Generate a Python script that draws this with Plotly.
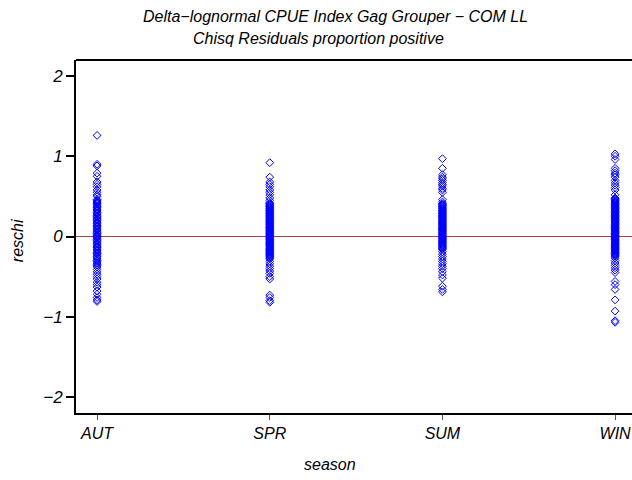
import plotly.graph_objects as go

seasons = ["AUT", "SPR", "SUM", "WIN"]

aut_reschi = [1.26, 0.90, 0.88, 0.79, 0.75, 0.68, 0.65, 0.62, 0.58, 0.55, 0.52, 0.50,
              0.46, 0.45, 0.44, 0.43, 0.42, 0.41, 0.40, 0.38, 0.37, 0.36, 0.34, 0.33,
              0.32, 0.30, 0.29, 0.28, 0.26, 0.25, 0.24, 0.22, 0.21, 0.20, 0.18, 0.17,
              0.16, 0.14, 0.13, 0.12, 0.10, 0.09, 0.08, 0.06, 0.05, 0.04, 0.02, 0.01,
              0.00, -0.01, -0.02, -0.04, -0.05, -0.06, -0.08, -0.09, -0.10, -0.12,
              -0.13, -0.14, -0.16, -0.17, -0.18, -0.20, -0.21, -0.22, -0.24, -0.25,
              -0.26, -0.28, -0.30, -0.31, -0.33, -0.35, -0.36, -0.38, -0.41, -0.44,
              -0.47, -0.50, -0.53, -0.57, -0.60, -0.63, -0.68, -0.72, -0.76, -0.79, -0.81]

spr_reschi = [0.92, 0.74, 0.68, 0.65, 0.62, 0.58, 0.55, 0.52, 0.48, 0.45, 0.42, 0.41,
              0.40, 0.39, 0.38, 0.37, 0.36, 0.35, 0.34, 0.33, 0.32, 0.31, 0.30, 0.29,
              0.28, 0.27, 0.26, 0.25, 0.24, 0.23, 0.22, 0.21, 0.20, 0.19, 0.18, 0.17,
              0.16, 0.15, 0.14, 0.13, 0.12, 0.11, 0.10, 0.09, 0.08, 0.07, 0.06, 0.05,
              0.04, 0.03, 0.02, 0.01, 0.00, -0.01, -0.02, -0.03, -0.04, -0.05, -0.06,
              -0.07, -0.08, -0.09, -0.10, -0.11, -0.12, -0.13, -0.14, -0.15, -0.16,
              -0.17, -0.18, -0.19, -0.20, -0.21, -0.22, -0.23, -0.24, -0.25, -0.26,
              -0.27, -0.28, -0.31, -0.34, -0.37, -0.40, -0.43, -0.46, -0.50, -0.53,
              -0.73, -0.76, -0.80, -0.82]

sum_reschi = [0.97, 0.85, 0.77, 0.74, 0.72, 0.70, 0.67, 0.65, 0.63, 0.60, 0.58, 0.55,
              0.46, 0.43, 0.41, 0.40, 0.39, 0.38, 0.37, 0.36, 0.35, 0.34, 0.33, 0.32,
              0.31, 0.30, 0.29, 0.28, 0.27, 0.26, 0.25, 0.24, 0.23, 0.22, 0.21, 0.20,
              0.19, 0.18, 0.17, 0.16, 0.15, 0.14, 0.13, 0.12, 0.11, 0.10, 0.09, 0.08,
              0.07, 0.06, 0.05, 0.04, 0.03, 0.02, 0.01, 0.00, -0.01, -0.02, -0.03,
              -0.04, -0.05, -0.06, -0.07, -0.08, -0.09, -0.10, -0.11, -0.12, -0.13,
              -0.14, -0.15, -0.16, -0.19, -0.22, -0.25, -0.28, -0.31, -0.34, -0.37,
              -0.40, -0.44, -0.48, -0.52, -0.62, -0.66, -0.69]

win_reschi = [1.03, 1.00, 0.96, 0.85, 0.82, 0.79, 0.77, 0.74, 0.70, 0.67, 0.64, 0.61,
              0.58, 0.52, 0.48, 0.47, 0.46, 0.45, 0.44, 0.43, 0.42, 0.41, 0.40, 0.39,
              0.38, 0.37, 0.36, 0.35, 0.34, 0.33, 0.32, 0.31, 0.30, 0.29, 0.28, 0.27,
              0.26, 0.25, 0.24, 0.23, 0.22, 0.21, 0.20, 0.19, 0.18, 0.17, 0.16, 0.15,
              0.14, 0.13, 0.12, 0.11, 0.10, 0.09, 0.08, 0.07, 0.06, 0.05, 0.04, 0.03,
              0.02, 0.01, 0.00, -0.01, -0.02, -0.03, -0.04, -0.05, -0.06, -0.07, -0.08,
              -0.09, -0.10, -0.11, -0.12, -0.13, -0.14, -0.15, -0.16, -0.17, -0.18,
              -0.19, -0.20, -0.21, -0.22, -0.23, -0.24, -0.25, -0.27, -0.30, -0.33,
              -0.36, -0.39, -0.42, -0.45, -0.56, -0.60, -0.66, -0.79, -0.93, -1.05, -1.07]

y_ticks = [-2, -1, 0, 1, 2]

title_line1 = "Delta\u2212lognormal CPUE Index Gag Grouper \u2212 COM LL"
title_line2 = "Chisq Residuals proportion positive"
x_title = "season"
y_title = "reschi"

xs, ys = [], []
for s, vals in zip(seasons, [aut_reschi, spr_reschi, sum_reschi, win_reschi]):
    xs += [s] * len(vals)
    ys += vals

FONT = "Liberation Sans, Arial, sans-serif"

fig = go.Figure()
fig.add_trace(go.Scatter(
    x=xs, y=ys, mode="markers",
    marker=dict(symbol="diamond-open", size=6, color="#0000FF", line=dict(width=1, color="#0000FF")),
    showlegend=False, hoverinfo="skip"))

fig.add_shape(type="line", xref="paper", yref="y", x0=0, x1=1, y0=0, y1=0,
              line=dict(color="#B04040", width=1), layer="below")
fig.add_shape(type="line", xref="paper", yref="paper", x0=0, x1=1, y0=1, y1=1,
              line=dict(color="black", width=2))

fig.add_annotation(text=title_line1, xref="paper", yref="paper", x=0.466, y=1.0, yshift=44,
                   showarrow=False, xanchor="center", yanchor="middle",
                   font=dict(family=FONT, size=16, color="black", style="italic"))
fig.add_annotation(text=title_line2, xref="paper", yref="paper", x=0.437, y=1.0, yshift=22,
                   showarrow=False, xanchor="center", yanchor="middle",
                   font=dict(family=FONT, size=16, color="black", style="italic"))
fig.add_annotation(text=x_title, xref="paper", yref="paper", x=0.457, y=-0.147,
                   showarrow=False, xanchor="center", yanchor="middle",
                   font=dict(family=FONT, size=16, color="black", style="italic"))
fig.add_annotation(text=y_title, xref="paper", yref="paper", x=-0.106, y=0.487, textangle=-90,
                   showarrow=False, xanchor="center", yanchor="middle",
                   font=dict(family=FONT, size=16, color="black", style="italic"))

fig.update_layout(
    width=632, height=480,
    margin=dict(l=76, r=0, t=60, b=67),
    plot_bgcolor="white", paper_bgcolor="white",
    font=dict(family=FONT, size=16, color="black", style="italic"),
    xaxis=dict(type="category", categoryorder="array", categoryarray=seasons,
               range=[-0.122, 3.098], showline=True, linecolor="black", linewidth=2,
               ticks="outside", ticklen=5, tickwidth=1, tickcolor="#555555",
               showgrid=False, zeroline=False),
    yaxis=dict(range=[-2.2, 2.2], tickvals=y_ticks, showline=True, linecolor="black",
               linewidth=2, ticks="outside", ticklen=8, tickwidth=2, tickcolor="black",
               showgrid=False, zeroline=False, tickfont=dict(size=17)),
)

fig.write_html("out.html")
